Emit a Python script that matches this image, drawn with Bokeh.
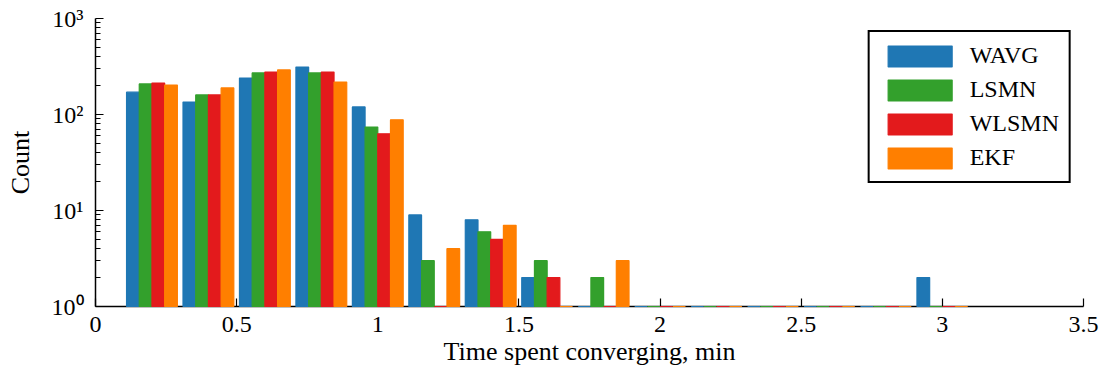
from bokeh.plotting import figure
from bokeh.models import Range1d, FixedTicker, Legend, LegendItem, ColumnDataSource
from bokeh.embed import file_html
from bokeh.resources import INLINE

# ---- data ----
bin_centers = [0.2, 0.4, 0.6, 0.8, 1.0, 1.2, 1.4, 1.6, 1.8, 2.0, 2.2, 2.4, 2.6, 2.8, 3.0]
series_names = ["WAVG", "LSMN", "WLSMN", "EKF"]
wavg = [171, 135, 240, 312, 120, 9, 8, 2, 0, 0, 0, 0, 0, 0, 2]
lsmn = [208, 160, 271, 271, 74, 3, 6, 3, 2, 0, 0, 0, 0, 0, 0]
wlsmn = [213, 160, 277, 277, 63, 0, 5, 2, 0, 0, 0, 0, 0, 0, 0]
ekf = [203, 189, 291, 218, 88, 4, 7, 0, 3, 0, 0, 0, 0, 0, 0]
series_values = [wavg, lsmn, wlsmn, ekf]

x_ticks = [0, 0.5, 1, 1.5, 2, 2.5, 3, 3.5]
x_tick_labels = ["0", "0.5", "1", "1.5", "2", "2.5", "3", "3.5"]
y_ticks = [1, 10, 100, 1000]
y_tick_labels = ["10\u2070", "10\u00b9", "10\u00b2", "10\u00b3"]

# ---- style ----
colors = ["#1f77b4", "#33a02c", "#e31a1c", "#ff7f00"]
bar_width = 0.045
group_offsets = [-0.0675, -0.0225, 0.0225, 0.0675]
FONT = "Liberation Serif"

p = figure(width=1105, height=375,
           x_range=Range1d(0, 3.5), y_range=Range1d(1, 1000),
           y_axis_type="log",
           output_backend="svg", toolbar_location=None,
           min_border_left=95, min_border_right=22,
           min_border_top=18, min_border_bottom=69)
p.outline_line_color = None
p.xgrid.visible = False
p.ygrid.visible = False
p.background_fill_color = "white"
p.border_fill_color = "white"

items = []
for name, vals, col, off in zip(series_names, series_values, colors, group_offsets):
    src = ColumnDataSource(dict(
        x=[c + off for c in bin_centers],
        top=[max(v, 1) for v in vals],
        bottom=[1] * len(vals),
    ))
    r = p.vbar(x="x", width=bar_width, top="top", bottom="bottom", source=src,
               fill_color=col, line_color=col, line_width=1.2, level="annotation")
    items.append(LegendItem(label=name, renderers=[r]))

legend = Legend(items=items, location="top_right",
                glyph_width=80, glyph_height=26, spacing=7,
                label_standoff=10, padding=10, margin=12,
                label_text_font=FONT, label_text_font_size="24px",
                label_text_color="black", label_height=26,
                border_line_color="black", border_line_width=2,
                border_line_alpha=1.0,
                background_fill_color="white", background_fill_alpha=1)
p.add_layout(legend)

# x axis
xa = p.xaxis[0]
xa.ticker = FixedTicker(ticks=x_ticks)
xa.major_label_overrides = {t: l for t, l in zip(x_ticks, x_tick_labels)}
xa.axis_label = "Time spent converging, min"
# y axis
ya = p.yaxis[0]
minor = []
for dec in [1, 10, 100]:
    for m in range(2, 10):
        minor.append(dec * m)
ya.ticker = FixedTicker(ticks=y_ticks, minor_ticks=minor)
ya.major_label_overrides = {t: l for t, l in zip(y_ticks, y_tick_labels)}
ya.axis_label = "Count"

for ax in (xa, ya):
    ax.axis_line_color = "black"
    ax.axis_line_width = 1.5
    ax.major_tick_line_color = "black"
    ax.major_tick_line_width = 1.2
    ax.major_tick_in = 8
    ax.major_tick_out = 0
    ax.minor_tick_line_color = "black"
    ax.minor_tick_line_width = 1
    ax.minor_tick_in = 5
    ax.minor_tick_out = 0
    ax.major_label_text_font = FONT
    ax.major_label_text_font_size = "24px"
    ax.major_label_text_color = "black"
    ax.axis_label_text_font = FONT
    ax.axis_label_text_font_size = "26px"
    ax.axis_label_text_font_style = "normal"
    ax.axis_label_text_color = "black"

xa.minor_tick_line_color = None
xa.major_label_standoff = 10
xa.axis_label_standoff = 2
ya.major_label_standoff = 12
ya.axis_label_standoff = 14

open("out.html", "w").write(file_html(p, INLINE))
